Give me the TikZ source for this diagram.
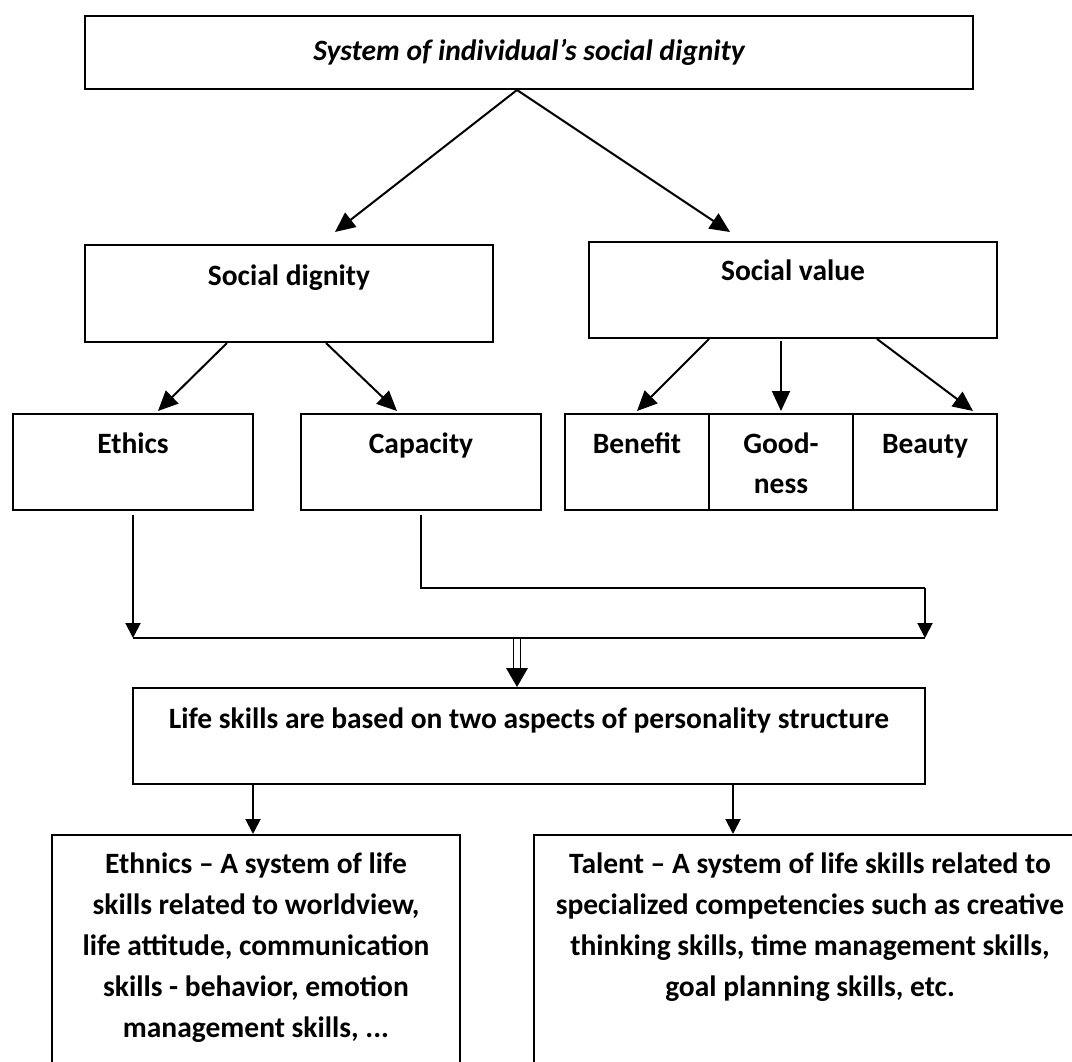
\documentclass[tikz,border=0pt]{standalone}
\usepackage{fontspec}
\setmainfont{Carlito}
\usetikzlibrary{arrows.meta,calc}
\begin{document}
\begin{tikzpicture}[x=1pt,y=-1pt,
  bx/.style={draw,line width=2pt,rectangle,inner sep=0pt},
  txt/.style={inner sep=0pt,anchor=base,font=\fontsize{29.5}{41}\selectfont\bfseries,align=center},
  conn/.style={line width=2pt,-{Triangle[length=15pt,width=15pt]}},
  bigconn/.style={line width=2pt,-{Triangle[length=20pt,width=18pt]}},
  plain/.style={line width=2pt}]
\useasboundingbox (0,0) rectangle (1072,1062);
\begin{scope}
\clip (0,0) rectangle (1072,1062);
% boxes
\node[bx,minimum width=888pt,minimum height=73pt] (top) at (529,52.5) {};
\node[bx,minimum width=408pt,minimum height=97pt] (sd) at (289,293.5) {};
\node[bx,minimum width=408pt,minimum height=96pt] (sv) at (793,290) {};
\node[bx,minimum width=240pt,minimum height=96pt] (eth) at (133,462) {};
\node[bx,minimum width=240pt,minimum height=96pt] (cap) at (421,462) {};
\node[bx,minimum width=144pt,minimum height=96pt] (ben) at (637,462) {};
\node[bx,minimum width=144pt,minimum height=96pt] (good) at (781,462) {};
\node[bx,minimum width=144pt,minimum height=96pt] (beau) at (925,462) {};
\node[bx,minimum width=792pt,minimum height=96pt] (life) at (529,736) {};
\node[bx,minimum width=408pt,minimum height=260pt] (ethn) at (256,965) {};
\node[bx,minimum width=552pt,minimum height=260pt] (tal) at (810,965) {};
% texts (base anchor = baseline of last line)
\node[txt,font=\fontsize{29.5}{41}\selectfont\bfseries\itshape] (ttop) at (529,61) {System of individual's social dignity};
\node[txt] (tsd) at (289,285) {Social dignity};
\node[txt] (tsv) at (793,280) {Social value};
\node[txt] (teth) at (133,453) {Ethics};
\node[txt] (tcap) at (421,453) {Capacity};
\node[txt] (tben) at (637,453) {Benefit};
\node[txt,font=\fontsize{29.5}{40}\selectfont\bfseries] (tgood) at (781,493) {Good-\\ness};
\node[txt] (tbeau) at (925,453) {Beauty};
\node[txt] (tlife) at (529,728) {Life skills are based on two aspects of personality structure};
\node[txt] (tethn) at (256,1037) {Ethnics -- A system of life\\skills related to worldview,\\life attitude, communication\\skills - behavior, emotion\\management skills, ...};
\node[txt] (ttal) at (810,996) {Talent -- A system of life skills related to\\specialized competencies such as creative\\thinking skills, time management skills,\\goal planning skills, etc.};
\end{scope}
% connectors
\coordinate (split) at ($(top.south)+(-12,0)$);
\draw[bigconn] (split) -- ($(sd.north)+(46,-12)$);
\draw[bigconn] (split) -- ($(sv.north)+(-63,-9)$);
\draw[bigconn] ($(sd.south)+(-62,0)$) -- ($(eth.north)+(25,-2)$);
\draw[bigconn] ($(sd.south)+(37,0)$) -- ($(cap.north)+(-24,-2)$);
\draw[bigconn] ($(sv.south)+(-84,0)$) -- ($(ben.north)+(0,-2)$);
\draw[bigconn] ($(sv.south)+(-12,2)$) -- ($(good.north)+(0,-2)$);
\draw[bigconn] ($(sv.south)+(84,0)$) -- ($(beau.north)+(48,-2)$);
\coordinate (busL) at (133,638);
\coordinate (busR) at (925,638);
\coordinate (busM) at (517,638);
\coordinate (capturn) at (421,588);
\coordinate (capturnR) at (925,588);
\draw[plain] (busL) -- (busR);
\draw[conn] ($(eth.south)+(0,4)$) -- (busL);
\draw[plain] ($(cap.south)+(0,4)$) -- (capturn) -- (capturnR);
\draw[conn] (capturnR) -- (busR);
% double arrow
\draw[line width=1.6pt] ($(busM)+(-3.5,0)$) -- ($(busM)+(-3.5,32)$);
\draw[line width=1.6pt] ($(busM)+(3.5,0)$) -- ($(busM)+(3.5,32)$);
\fill ($(busM)+(-11,30)$) -- ($(busM)+(11,30)$) -- ($(life.north)+(-12,0)$) -- cycle;
\draw[conn] ($(life.south)+(-276,0)$) -- (ethn.north -| 253,0);
\draw[conn] ($(life.south)+(204,0)$) -- (tal.north -| 733,0);
\end{tikzpicture}
\end{document}
